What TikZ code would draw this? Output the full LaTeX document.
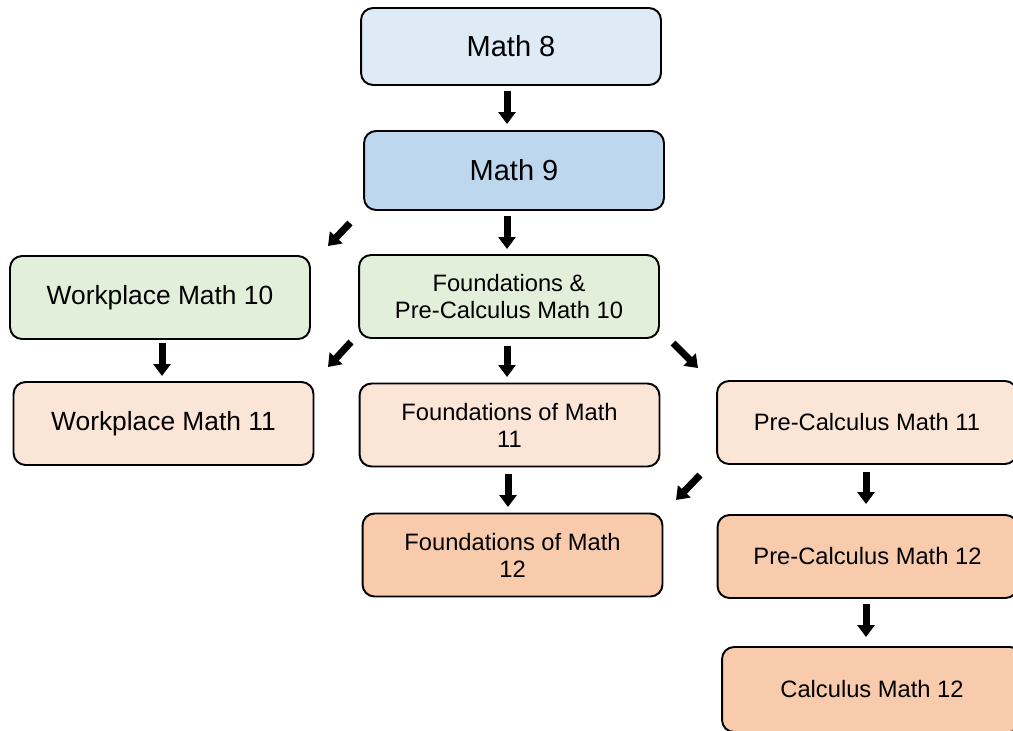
\documentclass[tikz,border=0pt]{standalone}
\usepackage{fontspec}
\setmainfont{Liberation Sans}
\usetikzlibrary{arrows.meta,positioning}

\definecolor{gradeeight}{HTML}{DEEBF7}
\definecolor{gradenine}{HTML}{BDD7EE}
\definecolor{gradeten}{HTML}{E2EFDA}
\definecolor{gradeeleven}{HTML}{FBE5D6}
\definecolor{gradetwelve}{HTML}{F8CBAD}

\tikzset{
  course/.style={draw, line width=1.1pt, rounded corners=0.24cm,
    minimum width=6cm, minimum height=1.66cm, align=center,
    font=\fontsize{13.5}{15.4}\selectfont},
  bigtext/.style={font=\fontsize{16.5}{19}\selectfont},
  midtext/.style={font=\fontsize{15}{18}\selectfont},
  flow/.style={line width=0.14cm, -{Triangle[length=0.24cm,width=0.34cm]}},
}

\begin{document}
\begin{tikzpicture}[x=0.02cm,y=-0.02cm]
\useasboundingbox (0,0) rectangle (1013,730);
\clip (0,0) rectangle (1013,730);

\node[course, bigtext, fill=gradeeight, minimum height=1.54cm] (m8) at (511,46.5) {Math 8};
\node[course, bigtext, fill=gradenine, minimum height=1.58cm] (m9) at (514,170.5) {Math 9};

\node[course, midtext, fill=gradeten] (wm10) at (160,297.5) {Workplace Math 10};
\node[course, fill=gradeten] (fp10) at (509,296.5) {Foundations \&\\Pre-Calculus Math 10};

\node[course, midtext, fill=gradeeleven] (wm11) at (163.5,423.5) {Workplace Math 11};
\node[course, fill=gradeeleven] (fm11) at (509.5,425) {Foundations of Math\\11};
\node[course, fill=gradeeleven] (pc11) at (867,422.5) {Pre-Calculus Math 11};

\node[course, fill=gradetwelve] (fm12) at (512.5,555) {Foundations of Math\\12};
\node[course, fill=gradetwelve] (pc12) at (867.5,556.5) {Pre-Calculus Math 12};
\node[course, fill=gradetwelve, minimum height=1.7cm] (cm12) at (872,689.5) {Calculus Math 12};

% arrow tails and heads
\coordinate (t1) at (507,91);  \coordinate (h1) at (507,124);
\coordinate (t2) at (507,216); \coordinate (h2) at (507,249);
\coordinate (t3) at (350,223); \coordinate (h3) at (328,246);
\coordinate (t4) at (162,343); \coordinate (h4) at (162,376);
\coordinate (t5) at (351,342); \coordinate (h5) at (328,367);
\coordinate (t6) at (507,346); \coordinate (h6) at (507,377);
\coordinate (t7) at (673,343); \coordinate (h7) at (698,368);
\coordinate (t8) at (508,474); \coordinate (h8) at (508,507);
\coordinate (t9) at (700,475); \coordinate (h9) at (676,500);
\coordinate (t10) at (866,472); \coordinate (h10) at (866,504);
\coordinate (t11) at (866,604); \coordinate (h11) at (866,637);

\foreach \i in {1,...,11}
  \draw[flow] (t\i) -- (h\i);

\end{tikzpicture}
\end{document}
